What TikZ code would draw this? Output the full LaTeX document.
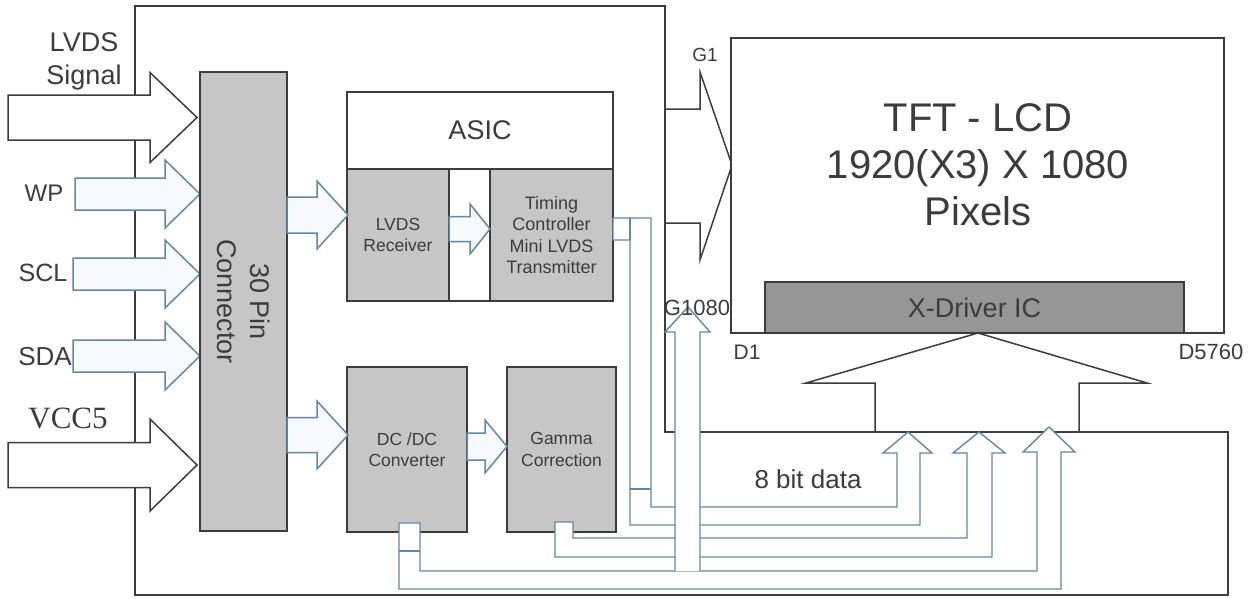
\documentclass[tikz,border=0pt]{standalone}
\usepackage{fontspec}
\setmainfont{Liberation Sans}
\newfontfamily\timesfont{Liberation Serif}
\usepackage{tikz}
\usetikzlibrary{positioning}
\definecolor{boxline}{RGB}{60,60,60}
\definecolor{busline}{RGB}{100,135,165}
\definecolor{busfill}{RGB}{246,250,253}
\definecolor{blockgray}{RGB}{198,198,198}
\definecolor{drivergray}{RGB}{150,150,150}
\definecolor{txt}{RGB}{60,60,60}
% right pointing block arrow: tail x, head base x, tip x, centre y, half shaft, half head
\newcommand{\blockarrow}[7][]{%
  \filldraw[#1] (#2,#5-#6) -- (#3,#5-#6) -- (#3,#5-#7) -- (#4,#5)
    -- (#3,#5+#7) -- (#3,#5+#6) -- (#2,#5+#6) -- cycle;}

\begin{document}
\begin{tikzpicture}
  [x=1pt, y=-1pt,
  board/.style={draw=boxline, line width=1.8pt},
  block/.style={draw=boxline, line width=1.8pt, fill=blockgray, text=txt, align=center, inner sep=0pt, outer sep=0pt, font=\fontsize{17.5}{21.5}\selectfont},
  panel/.style={block, fill=white},
  bigarrow/.style={draw=boxline, line width=1.5pt, fill=white},
  openarrow/.style={draw=boxline, line width=1.5pt},
  sigarrow/.style={draw=busline, line width=1.5pt, fill=busfill},
  bus/.style={draw=busline, line width=1.4pt, fill=white},
  lbl/.style={text=txt, inner sep=0pt, outer sep=0pt, align=center}]
  \useasboundingbox (0,0) rectangle (1257,598);

% Board outline
\draw[board] (135,6) -- (665,6) -- (665,432) -- (1228,432) -- (1228,595) -- (135,595) -- cycle;

% Inputs
\blockarrow[bigarrow]{8}{150}{197}{117.5}{22.5}{45}
\blockarrow[sigarrow]{75}{165}{200}{194}{16}{34}
\blockarrow[sigarrow]{73}{165}{200}{274}{16}{34}
\blockarrow[sigarrow]{73}{165}{200}{356}{16}{34}
\blockarrow[bigarrow]{8}{150}{197}{465}{22.5}{46}
\node (lvds-in) [lbl, font=\fontsize{27}{33}\selectfont] at (84,61) {LVDS\\Signal};
\node (wp-in) [lbl, font=\fontsize{24}{24}\selectfont] at (44,193) {WP};
\node (scl-in) [lbl, font=\fontsize{25}{25}\selectfont] at (43,273) {SCL};
\node (sda-in) [lbl, font=\fontsize{26}{26}\selectfont] at (45,357) {SDA};
\node (vcc-in) [lbl, font=\timesfont\fontsize{31}{31}\selectfont] at (68,418) {VCC5};

\node (connector) [block, rotate=-90, minimum width=459pt, minimum height=87pt, font=\fontsize{27}{33}\selectfont] at (243.5,301.5) {30 Pin\\Connector};

% ASIC
\node (asic) [panel, minimum width=266pt, minimum height=209pt, anchor=north west] at (347,92) {};
\node (asic-label) [lbl, font=\fontsize{27}{27}\selectfont] at (480,130) {ASIC};
\draw[board] (347,169) -- (613,169);
\node (lvds-rx) [block, minimum width=102pt, minimum height=132pt, anchor=south west] at (asic.south west) {LVDS\\Receiver};
\node (tcon) [block, minimum width=123pt, minimum height=132pt, anchor=south east, font=\fontsize{18}{21.5}\selectfont] at (asic.south east) {Timing\\Controller\\Mini LVDS\\Transmitter};

% Power
\node (dcdc) [block, minimum width=120pt, minimum height=165pt, anchor=north west] at (347,367) {DC /DC\\Converter};
\node (gamma) [block, minimum width=109pt, minimum height=165pt, right=40pt of dcdc] {Gamma\\Correction};

\blockarrow[sigarrow]{287}{317}{348}{215}{18}{34}
\blockarrow[sigarrow]{287}{317}{348}{435}{17.5}{34}
\blockarrow[sigarrow]{449}{470}{490}{229}{12.5}{25}
\blockarrow[sigarrow]{467}{485}{507}{446.5}{13.5}{26.5}

% Panel
\draw[openarrow] (665,109) -- (700,109) -- (700,72) -- (732,165) -- (700,260) -- (700,223) -- (665,223);
\node (tft) [panel, minimum width=493pt, minimum height=295pt, anchor=north west] at (731,38) {};
\node (tft-text) [lbl, font=\fontsize{40}{47}\selectfont] at (978,165) {TFT - LCD\\1920(X3) X 1080\\Pixels};
\node (xdriver) [block, fill=drivergray, minimum width=419pt, minimum height=51pt, anchor=south west, font=\fontsize{27}{27}\selectfont] at (765,333) {X-Driver IC};
\draw[openarrow] (875,432) -- (875,383) -- (806,383) -- (978,333) -- (1147,383) -- (1079,383) -- (1079,432);
\node (g1) [lbl, font=\fontsize{19}{19}\selectfont] at (705,55) {G1};
\node (d1) [lbl, font=\fontsize{21}{21}\selectfont] at (747,352) {D1};
\node (d5760) [lbl, font=\fontsize{22}{22}\selectfont] at (1211,352) {D5760};

% Data buses
\filldraw[bus] (613,218) -- (651,218) -- (651,507) -- (897,507) -- (897,453) -- (883,453) -- (908,432) -- (932,453) -- (920,453) -- (920,525) -- (630,525) -- (630,240) -- (613,240) -- cycle;
\draw[bus] (630,218) -- (630,240) (630,489) -- (651,489);
\filldraw[bus] (555,522) -- (573,522) -- (573,538) -- (967,538) -- (967,453) -- (953,453) -- (979,432) -- (1005,453) -- (992,453) -- (992,557) -- (555,557) -- cycle;
\filldraw[bus] (399,523) -- (420,523) -- (420,571) -- (1037,571) -- (1037,452) -- (1023,452) -- (1049,427) -- (1075,452) -- (1061,452) -- (1061,589) -- (399,589) -- cycle;
\draw[bus] (399,551) -- (420,551);
\fill[white] (676,427) rectangle (699,437);
\draw[bus] (675,571) -- (675,332) -- (665,332) -- (688,307) -- (710,332) -- (700,332) -- (700,571);
\node (g1080) [lbl, font=\fontsize{22}{22}\selectfont] at (697,308) {G1080};
\node (data) [lbl, font=\fontsize{26}{26}\selectfont] at (808,479) {8 bit data};
\end{tikzpicture}
\end{document}
